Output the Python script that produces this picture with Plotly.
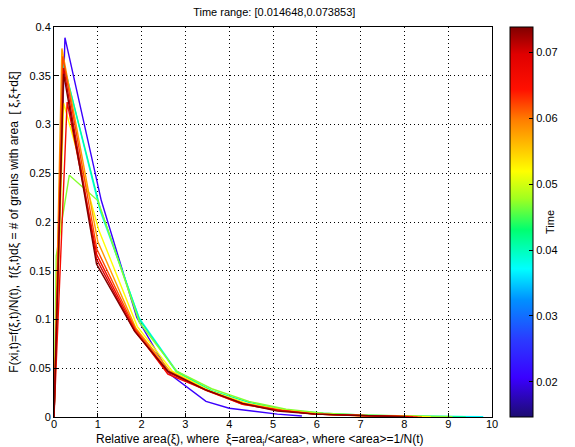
import plotly.graph_objects as go

# ---- data ----
t_min, t_max = 0.014648, 0.073853
times = [0.0205, 0.037, 0.041, 0.047, 0.052, 0.058, 0.062, 0.066, 0.070, 0.0739]

x_violet = [0, 0.25, 1.08, 1.89, 2.64, 3.47, 4.0, 5.1, 5.66]
y_violet = [0, 0.389, 0.222, 0.102, 0.044, 0.016, 0.009, 0.003, 0.001]
x_cyan = [0, 0.22, 1.05, 1.95, 2.8, 3.65, 4.5, 5.35, 6.2, 7.05, 7.9, 8.75, 9.8]
y_cyan = [0, 0.362, 0.212, 0.101, 0.047, 0.025, 0.012, 0.006, 0.003, 0.0015, 0.0008, 0.0004, 0.0002]
x_gcyan = [0, 0.2, 1.05, 1.95, 2.8, 3.6, 4.45, 5.3, 6.15, 7.0, 7.85, 8.7, 9.4]
y_gcyan = [0, 0.365, 0.215, 0.1, 0.046, 0.027, 0.015, 0.007, 0.004, 0.002, 0.001, 0.0005, 0.0003]
x_green = [0, 0.05, 0.35, 1.0, 1.95, 2.8, 3.6, 4.45, 5.3, 6.15, 7.0, 7.85, 8.7, 9.1]
y_green = [0, 0.165, 0.248, 0.222, 0.097, 0.047, 0.029, 0.016, 0.008, 0.004, 0.002, 0.001, 0.0005, 0.0003]
x_yellow = [0, 0.22, 1.02, 1.9, 2.7, 3.55, 4.4, 5.25, 6.1, 6.95, 7.8, 8.6]
y_yellow = [0, 0.322, 0.192, 0.093, 0.047, 0.027, 0.014, 0.007, 0.003, 0.0015, 0.0008, 0.0003]
x_orange = [0, 0.18, 1.0, 1.87, 2.65, 3.5, 4.35, 5.2, 6.05, 6.9, 7.75, 8.4]
y_orange = [0, 0.378, 0.18, 0.091, 0.047, 0.027, 0.014, 0.007, 0.003, 0.0015, 0.0008, 0.0003]
x_ored = [0, 0.2, 0.98, 1.86, 2.62, 3.48, 4.32, 5.15, 6.0, 6.85, 7.7, 8.3]
y_ored = [0, 0.37, 0.172, 0.09, 0.046, 0.027, 0.013, 0.007, 0.003, 0.0015, 0.0008, 0.0003]
x_red1 = [0, 0.3, 0.98, 1.85, 2.6, 3.45, 4.3, 5.1, 5.95, 6.8, 7.6, 8.2]
y_red1 = [0, 0.323, 0.166, 0.089, 0.044, 0.028, 0.013, 0.007, 0.003, 0.0015, 0.0008, 0.0003]
x_red2 = [0, 0.22, 0.97, 1.84, 2.6, 3.45, 4.3, 5.1, 5.95, 6.8, 7.6, 8.1]
y_red2 = [0, 0.358, 0.162, 0.088, 0.046, 0.028, 0.014, 0.007, 0.003, 0.0015, 0.0008, 0.0003]
x_dred = [0, 0.22, 0.97, 1.84, 2.6, 3.45, 4.3, 5.1, 5.95, 6.8, 7.6, 8.0]
y_dred = [0, 0.352, 0.157, 0.088, 0.047, 0.028, 0.014, 0.006, 0.003, 0.0015, 0.0008, 0.0003]

xs = [x_violet, x_cyan, x_gcyan, x_green, x_yellow, x_orange, x_ored, x_red1, x_red2, x_dred]
ys = [y_violet, y_cyan, y_gcyan, y_green, y_yellow, y_orange, y_ored, y_red1, y_red2, y_dred]

x_ticks = list(range(0, 11))
y_ticks = [0, 0.05, 0.1, 0.15, 0.2, 0.25, 0.3, 0.35, 0.4]
y_ticktext = ["0", "0.05", "0.1", "0.15", "0.2", "0.25", "0.3", "0.35", "0.4"]
cb_ticks = [0.02, 0.03, 0.04, 0.05, 0.06, 0.07]

cscale = [
    [0.0, "#1c0c70"], [0.1, "#3a00ff"], [0.2, "#2a3cff"], [0.3, "#0090ff"],
    [0.38, "#00ffff"], [0.48, "#00ff70"], [0.56, "#a0ff20"], [0.63, "#ffff00"],
    [0.76, "#ff8000"], [0.84, "#ff1000"], [0.93, "#e00000"], [1.0, "#800000"],
]


def sample(scale, f):
    f = min(max(f, 0.0), 1.0)
    for (p0, c0), (p1, c1) in zip(scale[:-1], scale[1:]):
        if p0 <= f <= p1:
            a = (f - p0) / (p1 - p0) if p1 > p0 else 0
            r0, g0, b0 = (int(c0[i:i + 2], 16) for i in (1, 3, 5))
            r1, g1, b1 = (int(c1[i:i + 2], 16) for i in (1, 3, 5))
            return "rgb(%d,%d,%d)" % (round(r0 + a * (r1 - r0)), round(g0 + a * (g1 - g0)), round(b0 + a * (b1 - b0)))
    return scale[-1][1]


fig = go.Figure()
for t, x, y in zip(times, xs, ys):
    c = sample(cscale, (t - t_min) / (t_max - t_min))
    fig.add_trace(go.Scatter(x=x, y=y, mode="lines", line=dict(color=c, width=1.4),
                             showlegend=False, hoverinfo="skip"))

# colorbar carrier
fig.add_trace(go.Scatter(
    x=[None], y=[None], mode="markers", showlegend=False,
    marker=dict(color=[t_min], colorscale=cscale, cmin=t_min, cmax=t_max, showscale=True,
                colorbar=dict(x=1.041, xanchor="left", xref="paper", y=0.5, yanchor="middle",
                              len=1, lenmode="fraction", thickness=23, xpad=0, ypad=0,
                              outlinewidth=1, outlinecolor="black",
                              tickvals=cb_ticks, ticktext=[f"{v:.2f}" for v in cb_ticks],
                              ticks="inside", ticklen=4, tickcolor="black",
                              tickfont=dict(size=11, color="black"),
                              title=dict(text="Time", side="right", font=dict(size=11, color="black"))))
))

axis_common = dict(showline=True, linecolor="black", linewidth=1, mirror=True,
                   ticks="inside", ticklen=4, tickcolor="black",
                   showgrid=True, gridcolor="black", griddash="1px,3px", gridwidth=1,
                   zeroline=False, tickfont=dict(size=11, color="black"), automargin=False)

fig.update_layout(
    width=575, height=447,
    margin=dict(l=54, r=81, t=27, b=30),
    paper_bgcolor="white", plot_bgcolor="white",
    font=dict(family="Liberation Sans, Arial, sans-serif", color="black"),
    title=dict(text="Time range: [0.014648,0.073853]", x=0.477, xanchor="center",
               y=0.973, yanchor="middle", font=dict(size=11)),
    xaxis=dict(range=[0, 10], tickvals=x_ticks, ticklabelstandoff=-3, **axis_common),
    yaxis=dict(range=[0, 0.4], tickvals=y_ticks, ticktext=y_ticktext,
               **axis_common,
               title=dict(text="F(xi,t)=f(ξ,t)/N(t),  f(ξ,t)dξ = # of grains with area  [ ξ,ξ+dξ]",
                          font=dict(size=12), standoff=8)),
    annotations=[dict(text="Relative area(ξ), where  ξ=area<sub>i</sub>/&lt;area&gt;, where &lt;area&gt;=1/N(t)",
                      xref="paper", yref="paper", x=0.47, y=-0.058, xanchor="center", yanchor="middle",
                      showarrow=False, font=dict(size=12))],
)

fig.write_html("out.html")
